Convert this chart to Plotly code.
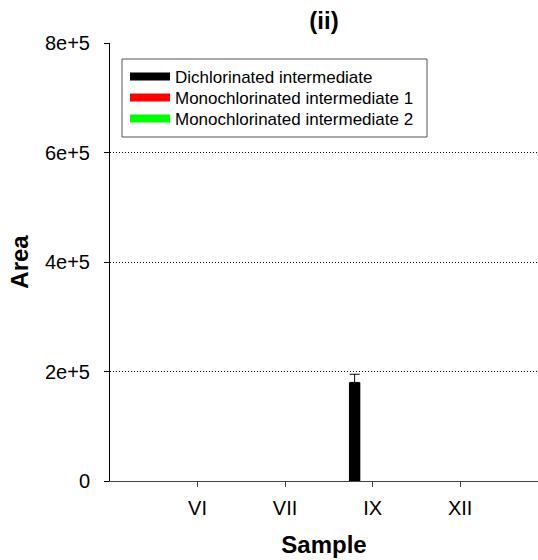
import plotly.graph_objects as go

categories = ["VI", "VII", "IX", "XII"]
cat_pos = [1, 2, 3, 4]
dichlorinated = [None, None, 180000, None]
dichlorinated_err = [None, None, 15000, None]
mono1 = [0, 0, 0, 0]
mono2 = [0, 0, 0, 0]
series_names = ["Dichlorinated intermediate", "Monochlorinated intermediate 1", "Monochlorinated intermediate 2"]
series_colors = ["#000000", "#ff0000", "#00ff00"]
y_ticks = [0, 200000, 400000, 600000, 800000]
y_ticklabels = ["0", "2e+5", "4e+5", "6e+5", "8e+5"]

FONT = "Liberation Sans, Arial, sans-serif"
L, T, B, W, H = 110, 43, 79, 538, 560
PW, PH = W - L, H - T - B


def px_x(px):
    return (px - L) / PW


def px_y(py):
    return (H - B - py) / PH


fig = go.Figure()

series_vals = [dichlorinated, mono1, mono2]
offsets = [-0.27, -0.14, -0.01]
for i, (name, vals, col) in enumerate(zip(series_names, series_vals, series_colors)):
    kw = {}
    if i == 0:
        kw["error_y"] = dict(type="data", array=dichlorinated_err, arrayminus=[None]*4,
                             symmetric=False, color="#000000", thickness=1, width=5)
    fig.add_trace(go.Bar(x=cat_pos, y=vals, name=name, marker_color=col,
                         marker_line_width=0, width=0.13, offset=offsets[i],
                         showlegend=False, **kw))

legend_ids = ["legend", "legend2", "legend3"]
legend_rows = [77, 98, 119]
for name, col, lid in zip(series_names, series_colors, legend_ids):
    fig.add_trace(go.Scatter(x=[None], y=[None], mode="lines", name=name,
                             line=dict(color=col, width=8), legend=lid))

legend_common = dict(xanchor="left", yanchor="middle", borderwidth=0,
                     bgcolor="rgba(0,0,0,0)", font=dict(size=17, family=FONT),
                     itemwidth=40)
layout_legends = {}
for lid, row in zip(legend_ids, legend_rows):
    layout_legends[lid] = dict(x=px_x(125), y=px_y(row), **legend_common)

fig.update_layout(
    width=W, height=H,
    margin=dict(l=L, r=0, t=T, b=B),
    paper_bgcolor="white", plot_bgcolor="white",
    font=dict(family=FONT, color="black", size=20),
    barmode="overlay",
    title=dict(text="<b>(ii)</b>", x=0.5, xref="paper", xanchor="center",
               y=1 - 21/560, yref="container", yanchor="middle",
               font=dict(size=24, family=FONT)),
    showlegend=True,
    **layout_legends,
)
fig.add_shape(type="rect", xref="paper", yref="paper",
              x0=px_x(122), x1=px_x(427), y0=px_y(137), y1=px_y(59),
              line=dict(color="#555555", width=1), fillcolor="rgba(0,0,0,0)",
              layer="above")

fig.update_xaxes(range=[0, 4.89], tickvals=cat_pos, ticktext=categories,
                 showline=True, linecolor="#444444", linewidth=1,
                 ticks="outside", ticklen=5, tickcolor="#444444",
                 ticklabelstandoff=4,
                 showgrid=False, zeroline=False,
                 title=dict(text="<b>Sample</b>", font=dict(size=24, family=FONT), standoff=18),
                 tickfont=dict(size=20))
fig.update_yaxes(range=[0, 800000], tickvals=y_ticks, ticktext=y_ticklabels,
                 showline=True, linecolor="#000000", linewidth=1,
                 ticks="outside", ticklen=5, tickcolor="#000000",
                 ticklabelstandoff=10,
                 showgrid=True, gridcolor="#000000", griddash="1px,2px", gridwidth=1,
                 zeroline=False,
                 title=dict(text="<b>Area</b>", font=dict(size=24, family=FONT), standoff=9),
                 tickfont=dict(size=20))

fig.write_html("out.html")
